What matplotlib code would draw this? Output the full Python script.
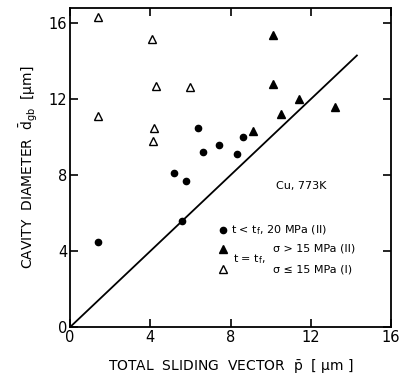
import matplotlib.pyplot as plt
import numpy as np

# t < tf, 20 MPa (II)
circ_x = [1.4, 5.2, 5.6, 5.8, 6.4, 6.6, 7.4, 8.3, 8.6]
circ_y = [4.5, 8.1, 5.6, 7.7, 10.5, 9.2, 9.6, 9.1, 10.0]
# t = tf, sigma > 15 MPa (II)
ftri_x = [10.1, 10.1, 11.4, 10.5, 13.2, 9.1]
ftri_y = [15.4, 12.8, 12.0, 11.2, 11.6, 10.3]
# t = tf, sigma <= 15 MPa (I)
otri_x = [1.4, 4.1, 4.3, 6.0, 1.4, 4.2, 4.15]
otri_y = [16.35, 15.15, 12.7, 12.65, 11.1, 10.5, 9.8]
# line d = p
line_x = [0, 14.3]
line_y = [0, 14.3]

plt.rcParams['font.family'] = 'DejaVu Sans'
fig = plt.figure(figsize=(4.01, 3.82), dpi=100)
ax = fig.add_axes([0.175, 0.144, 0.8, 0.835])

ax.plot(line_x, line_y, color='black', lw=1.3)
ax.plot(circ_x, circ_y, 'o', color='black', ms=4.5)
ax.plot(ftri_x, ftri_y, '^', color='black', ms=6)
ax.plot(otri_x, otri_y, '^', mfc='white', mec='black', mew=1.0, ms=5.5)

ax.set_xlim(0, 16)
ax.set_ylim(0, 16.8)
ax.set_xticks([0, 4, 8, 12, 16])
ax.set_yticks([0, 4, 8, 12, 16])
ax.tick_params(direction='in', length=6, width=1.2, top=True, right=True,
               labelsize=10.5, pad=2)
for s in ax.spines.values():
    s.set_linewidth(1.3)

ax.set_xlabel(r'TOTAL  SLIDING  VECTOR  $\bar{\mathrm{p}}$  [ µm ]', fontsize=10, labelpad=9)
ax.set_ylabel(r'CAVITY  DIAMETER  $\bar{\mathrm{d}}_{\mathrm{gb}}$  [µm]', fontsize=10, labelpad=6)

ax.text(11.5, 7.4, 'Cu, 773K', fontsize=8, ha='center', va='center')

# legend drawn by hand
ax.plot([7.6], [5.1], 'o', color='black', ms=4.5)
ax.plot([7.6], [4.1], '^', color='black', ms=6)
ax.plot([7.6], [3.05], '^', mfc='white', mec='black', mew=1.0, ms=5.5)
ax.text(8.0, 5.1, r't < t$_\mathrm{f}$, 20 MPa (II)', fontsize=8, va='center')
ax.text(8.1, 3.6, r't = t$_\mathrm{f}$,', fontsize=8, va='center')
ax.text(10.1, 4.15, 'σ > 15 MPa (II)', fontsize=8, va='center')
ax.text(10.1, 3.05, 'σ ≤ 15 MPa (I)', fontsize=8, va='center')

fig.savefig('out.png', dpi=100)
